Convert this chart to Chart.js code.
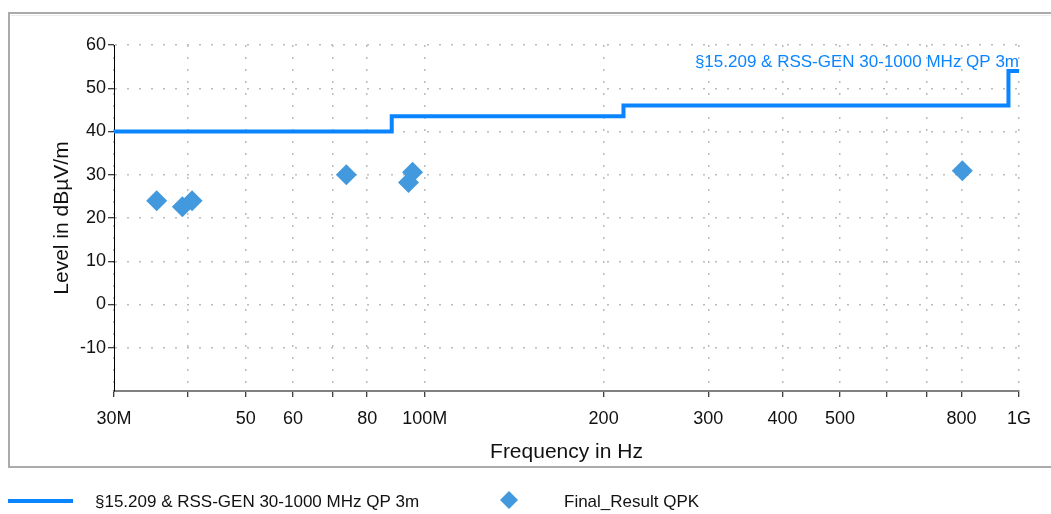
<!DOCTYPE html>
<html>
<head>
<meta charset="utf-8">
<title>Level vs Frequency</title>
<script src="https://cdn.jsdelivr.net/npm/chart.js@4/dist/chart.umd.min.js"></script>
<style>
    html, body { margin: 0; padding: 0; background: #fff; }
    canvas { display: block; }
</style>
</head>
<body>
<canvas id="emiChart" width="1051" height="514"></canvas>
<script>
// Limit line (frequency in MHz, level in dBuV/m)
const limitFreq = [30, 88, 216, 960, 1000];
const limitLevel = [40, 43.5, 46, 54, 54];

// Final result QPK points
const resultFreq = [35.4, 39.1, 40.6, 73.8, 93.9, 95.4, 802.9];
const resultLevel = [24.0, 22.6, 24.0, 30.0, 28.2, 30.6, 30.9];

// Axis ticks
const xTicks = [30, 40, 50, 60, 70, 80, 100, 200, 300, 400, 500, 600, 700, 800, 1000];
const xTickLabels = ['30M', '', '50', '60', '', '80', '100M', '200', '300', '400', '500', '', '', '800', '1G'];
const yLabeled = [-10, 0, 10, 20, 30, 40, 50, 60];

const limitName = '§15.209 & RSS-GEN 30-1000 MHz QP 3m';
const resultName = 'Final_Result QPK';

const FONT = '"Liberation Sans", Arial, sans-serif';
const LIMIT_COLOR = '#0a84ff';
const RESULT_COLOR = '#4299dd';

// Frame, limit label and bottom legend
const decorPlugin = {
    id: 'decor',
    beforeDraw(chart) {
        const ctx = chart.ctx;
        ctx.save();
        ctx.fillStyle = '#fff';
        ctx.fillRect(0, 0, chart.width, chart.height);
        ctx.strokeStyle = '#ababab';
        ctx.lineWidth = 2;
        ctx.strokeRect(9, 13, chart.width + 10, 454);
        ctx.strokeStyle = '#ececec';
        ctx.lineWidth = 1;
        ctx.beginPath();
        ctx.moveTo(10.5, 15.5);
        ctx.lineTo(chart.width, 15.5);
        ctx.stroke();
        ctx.restore();
    },
    afterDraw(chart) {
        const ctx = chart.ctx;
        const area = chart.chartArea;
        ctx.save();
        // limit label
        ctx.font = '17px ' + FONT;
        ctx.fillStyle = LIMIT_COLOR;
        ctx.textAlign = 'right';
        ctx.textBaseline = 'middle';
        ctx.fillText(limitName, area.right, 62);

        // legend
        ctx.textAlign = 'left';
        ctx.fillStyle = '#111';
        ctx.strokeStyle = LIMIT_COLOR;
        ctx.lineWidth = 4;
        ctx.beginPath();
        ctx.moveTo(8, 501);
        ctx.lineTo(73, 501);
        ctx.stroke();
        ctx.fillText(limitName, 95, 502);

        ctx.fillStyle = RESULT_COLOR;
        ctx.beginPath();
        ctx.moveTo(509, 491);
        ctx.lineTo(518, 500);
        ctx.lineTo(509, 509);
        ctx.lineTo(500, 500);
        ctx.closePath();
        ctx.fill();
        ctx.fillStyle = '#111';
        ctx.fillText(resultName, 564, 502);
        ctx.restore();
    }
};

// Tick marks: hide the one at the bottom corner of the y axis
function yTickColor(context) {
    return context.tick && context.tick.value === -20 ? 'rgba(0,0,0,0)' : '#000';
}

const ctx = document.getElementById('emiChart').getContext('2d');

new Chart(ctx, {
    type: 'scatter',
    data: {
        datasets: [{
            type: 'line',
            label: limitName,
            data: limitFreq.map((f, i) => ({ x: f, y: limitLevel[i] })),
            borderColor: LIMIT_COLOR,
            borderWidth: 4,
            stepped: 'before',
            pointRadius: 0,
            fill: false,
            order: 2
        }, {
            label: resultName,
            data: resultFreq.map((f, i) => ({ x: f, y: resultLevel[i] })),
            pointStyle: 'rectRot',
            pointRadius: 10.5,
            backgroundColor: RESULT_COLOR,
            borderColor: RESULT_COLOR,
            borderWidth: 0,
            order: 1
        }]
    },
    options: {
        responsive: false,
        animation: false,
        devicePixelRatio: 1,
        layout: {
            padding: { top: 45, right: 32, bottom: 0, left: 0 }
        },
        plugins: {
            legend: { display: false },
            tooltip: { enabled: false }
        },
        scales: {
            x: {
                type: 'logarithmic',
                min: 30,
                max: 1000,
                afterBuildTicks: function(scale) {
                    scale.ticks = xTicks.map(v => ({ value: v }));
                },
                afterFit: function(scale) {
                    scale.height = 123;
                },
                ticks: {
                    autoSkip: false,
                    maxRotation: 0,
                    padding: 11,
                    color: '#111',
                    font: { family: FONT, size: 18 },
                    callback: function(value, index) {
                        return xTickLabels[index];
                    }
                },
                grid: {
                    color: '#bcbcbc',
                    lineWidth: 1.5,
                    tickLength: 6,
                    tickColor: '#000',
                    tickWidth: 1,
                    tickBorderDash: []
                },
                border: {
                    color: '#808080',
                    width: 2,
                    dash: [2, 10]
                },
                title: {
                    display: true,
                    text: 'Frequency in Hz',
                    color: '#111',
                    font: { family: FONT, size: 21 },
                    padding: { top: 0, bottom: 49 }
                }
            },
            y: {
                type: 'linear',
                min: -20,
                max: 60,
                afterFit: function(scale) {
                    scale.width = 114;
                },
                ticks: {
                    stepSize: 5,
                    padding: 2,
                    color: '#111',
                    font: { family: FONT, size: 18 },
                    callback: function(value) {
                        return yLabeled.includes(value) ? String(value) : '';
                    }
                },
                grid: {
                    color: '#bcbcbc',
                    lineWidth: 1.5,
                    tickLength: 6,
                    tickColor: yTickColor,
                    tickWidth: 1,
                    tickBorderDash: []
                },
                border: {
                    color: '#000',
                    width: 1,
                    dash: [2, 10]
                },
                title: {
                    display: true,
                    text: 'Level in dBµV/m',
                    color: '#111',
                    font: { family: FONT, size: 21 },
                    padding: { top: 50, bottom: 0 }
                }
            }
        }
    },
    plugins: [decorPlugin]
});
</script>
</body>
</html>
